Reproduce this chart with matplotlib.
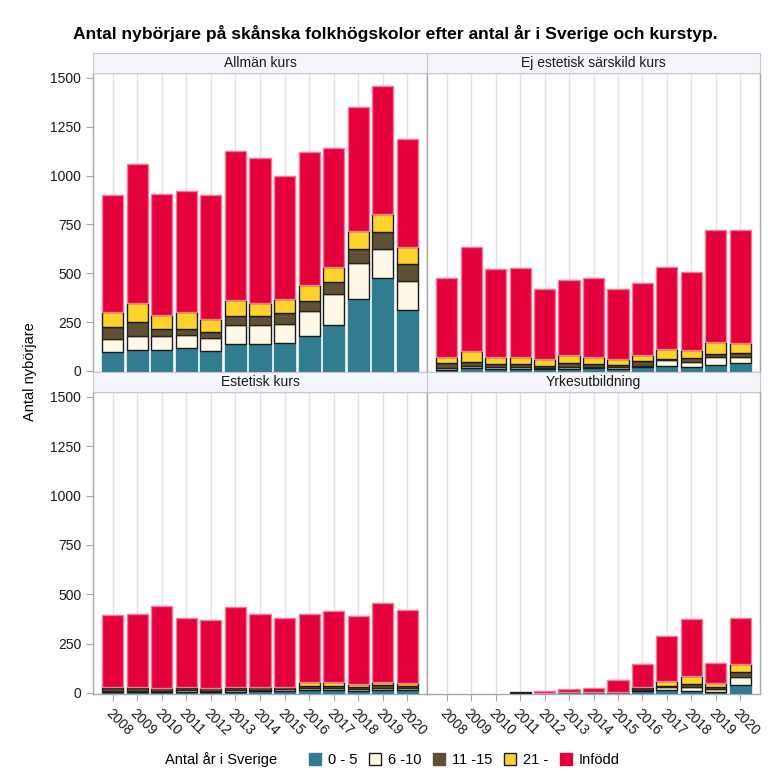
import numpy as np
import matplotlib
matplotlib.use("Agg")
import matplotlib.pyplot as plt
from matplotlib.patches import Patch

plt.rcParams['font.family'] = ['Liberation Sans', 'DejaVu Sans']

years = list(range(2008, 2021))
panels = ['Allmän kurs', 'Ej estetisk särskild kurs', 'Estetisk kurs', 'Yrkesutbildning']
groups = ['0 - 5', '6 -10', '11 -15', '21 -', 'Infödd']

allman_0_5 = [96, 106, 109, 119, 101, 135, 135, 143, 179, 236, 370, 474, 314]
allman_6_10 = [68, 70, 70, 64, 68, 101, 102, 99, 127, 155, 181, 152, 147]
allman_11_15 = [58, 73, 33, 32, 32, 47, 46, 53, 49, 65, 75, 86, 88]
allman_21 = [78, 98, 75, 85, 65, 82, 62, 74, 85, 78, 92, 92, 86]
allman_infodd = [601, 713, 619, 621, 635, 761, 746, 629, 681, 608, 634, 655, 553]

ej_0_5 = [5, 15, 8, 10, 8, 10, 12, 10, 20, 27, 22, 31, 39]
ej_6_10 = [10, 12, 14, 10, 7, 12, 10, 12, 7, 26, 23, 39, 31]
ej_11_15 = [25, 18, 14, 16, 12, 17, 14, 8, 21, 7, 20, 17, 21]
ej_21 = [30, 59, 37, 37, 33, 43, 34, 33, 32, 53, 43, 63, 54]
ej_infodd = [405, 532, 449, 454, 360, 384, 406, 358, 369, 418, 397, 572, 577]

est_0_5 = [5, 5, 4, 6, 5, 6, 10, 10, 12, 14, 8, 12, 12]
est_6_10 = [5, 5, 4, 6, 5, 8, 6, 8, 10, 10, 10, 10, 12]
est_11_15 = [12, 15, 14, 12, 12, 10, 12, 10, 15, 12, 10, 18, 12]
est_21 = [5, 3, 3, 4, 2, 6, 4, 4, 20, 18, 19, 17, 16]
est_infodd = [369, 371, 416, 352, 344, 406, 367, 347, 342, 361, 340, 396, 368]

yrk_0_5 = [0, 0, 0, 1, 1, 2, 2, 2, 8, 14, 10, 5, 39]
yrk_6_10 = [0, 0, 0, 0, 0, 0, 0, 0, 4, 13, 20, 14, 39]
yrk_11_15 = [0, 0, 0, 2, 0, 0, 0, 0, 10, 7, 16, 13, 25]
yrk_21 = [0, 0, 0, 0, 0, 0, 0, 0, 8, 27, 37, 19, 44]
yrk_infodd = [0, 0, 0, 0, 8, 15, 23, 64, 114, 228, 289, 101, 232]

data = {
    'Allmän kurs': [allman_0_5, allman_6_10, allman_11_15, allman_21, allman_infodd],
    'Ej estetisk särskild kurs': [ej_0_5, ej_6_10, ej_11_15, ej_21, ej_infodd],
    'Estetisk kurs': [est_0_5, est_6_10, est_11_15, est_21, est_infodd],
    'Yrkesutbildning': [yrk_0_5, yrk_6_10, yrk_11_15, yrk_21, yrk_infodd],
}

colors = ['#317C8F', '#FFF8E6', '#5E5135', '#FDD22B', '#E4003A']
edges = ['#317C8F', '#1A1A1A', '#2A2418', '#1A1A1A', '#F27A96']
frame = '#A6A8AD'

W, H = 769, 777
fig = plt.figure(figsize=(W / 100, H / 100), dpi=100)

# panel boxes in pixels: (left, right, plot top, plot bottom, header top)
boxes = [(93, 427, 73, 372, 53), (427, 760, 73, 372, 53),
         (93, 427, 392, 694, 372), (427, 760, 392, 694, 372)]

x = np.arange(len(years))
for i, name in enumerate(panels):
    l, r, t, b, ht = boxes[i]
    ax = fig.add_axes([l / W, 1 - b / H, (r - l) / W, (b - t) / H])
    bottom = np.zeros(len(years))
    for vals, c, e in zip(data[name], colors, edges):
        vals = np.array(vals, dtype=float)
        m = vals > 0
        ax.bar(x[m], vals[m], bottom=bottom[m], width=0.86, color=c,
               edgecolor=e, linewidth=1.0, zorder=3)
        bottom += vals
    ax.set_xlim(-0.8, len(years) - 0.2)
    ax.set_ylim(-6, 1525)
    ax.set_xticks(x)
    ax.grid(axis='x', color='#E3E3E3', linewidth=1.0, zorder=0)
    ax.set_yticks([0, 250, 500, 750, 1000, 1250, 1500])
    for s in ax.spines.values():
        s.set_color(frame)
        s.set_linewidth(1.0)
    ax.tick_params(colors=frame, labelcolor='#1A1A1A', labelsize=10, length=5)
    if i % 2 == 1:
        ax.tick_params(axis='y', left=False, labelleft=False)
    if i < 2:
        ax.tick_params(axis='x', bottom=False, labelbottom=False)
    else:
        ax.set_xticklabels([str(y) for y in years], rotation=-45, ha='left',
                           va='top', rotation_mode='anchor')
    hx = fig.add_axes([l / W, 1 - t / H, (r - l) / W, (t - ht) / H])
    hx.set_facecolor('#F5F6FC')
    hx.set_xticks([])
    hx.set_yticks([])
    for s in hx.spines.values():
        s.set_color('#C8CACF')
    hx.text(0.5, 0.5, name, ha='center', va='center', fontsize=10,
            color='#1A1A1A', transform=hx.transAxes)

fig.text(395 / W, 1 - 33 / H, 'Antal nybörjare på skånska folkhögskolor efter antal år i Sverige och kurstyp.',
         ha='center', va='center', fontsize=12.6, fontweight='bold')
fig.text(30 / W, 1 - 372 / H, 'Antal nybörjare', rotation=90, ha='center',
         va='center', fontsize=10.5)

fig.text(165 / W, 1 - 760 / H, 'Antal år i Sverige', ha='left', va='center', fontsize=10.5)
handles = [Patch(facecolor=c, edgecolor=('#1A1A1A' if g in ('6 -10', '21 -') else c),
                 linewidth=1.0) for c, g in zip(colors, groups)]
fig.legend(handles, groups, loc='center left', bbox_to_anchor=(303 / W, 1 - 760 / H),
           ncol=5, frameon=False, fontsize=10.5, handlelength=0.8, handleheight=0.8,
           handletextpad=0.5, columnspacing=0.8, borderaxespad=0)

fig.savefig('out.png', dpi=100)
